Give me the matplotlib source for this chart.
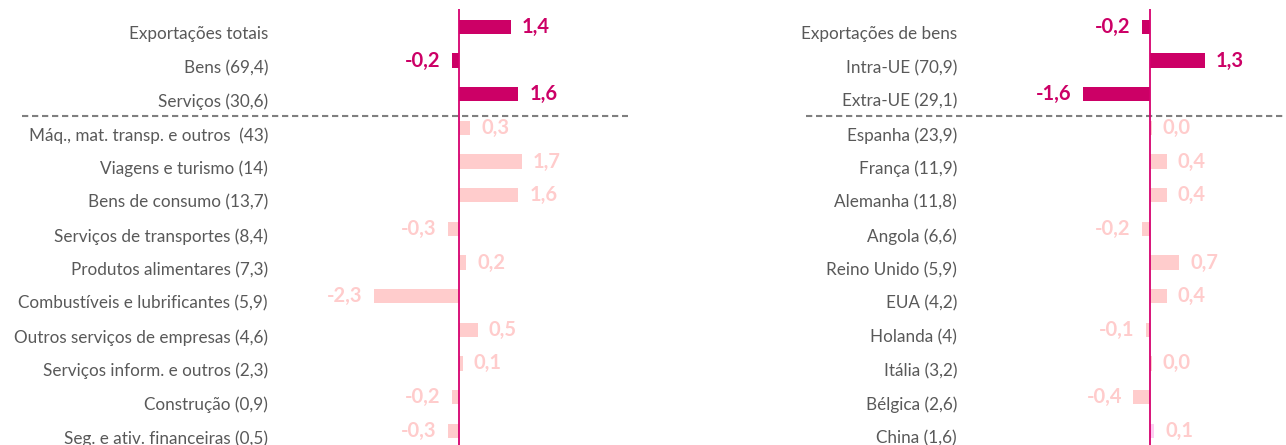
import matplotlib
matplotlib.use('Agg')
import matplotlib.pyplot as plt
import matplotlib.transforms as mtransforms

# dados
left_labels = ['Exportações totais', 'Bens (69,4)', 'Serviços (30,6)',
               'Máq., mat. transp. e outros  (43)', 'Viagens e turismo (14)',
               'Bens de consumo (13,7)', 'Serviços de transportes (8,4)',
               'Produtos alimentares (7,3)', 'Combustíveis e lubrificantes (5,9)',
               'Outros serviços de empresas (4,6)', 'Serviços inform. e outros (2,3)',
               'Construção (0,9)', 'Seg. e ativ. financeiras (0,5)']
left_values = [1.4, -0.2, 1.6, 0.3, 1.7, 1.6, -0.3, 0.2, -2.3, 0.5, 0.1, -0.2, -0.3]

right_labels = ['Exportações de bens', 'Intra-UE (70,9)', 'Extra-UE (29,1)',
                'Espanha (23,9)', 'França (11,9)', 'Alemanha (11,8)', 'Angola (6,6)',
                'Reino Unido (5,9)', 'EUA (4,2)', 'Holanda (4)', 'Itália (3,2)',
                'Bélgica (2,6)', 'China (1,6)']
right_values = [-0.2, 1.3, -1.6, 0.045, 0.4, 0.4, -0.2, 0.7, 0.4, -0.1, 0.04, -0.4, 0.1]

DARK = '#CC0066'
LIGHT = '#FFCCCC'
CHINA = '#FFCCF2'
GREY = '#595959'

plt.rcParams['font.family'] = ['Lato', 'DejaVu Sans']

W, H = 1286, 445
fig = plt.figure(figsize=(W / 100, H / 100), dpi=100)


def panel(x0, x1, zero_px, px_per_unit, labels, values, label_x, dash_from, dash_to, bar_colors):
    ax = fig.add_axes([x0 / W, 0, (x1 - x0) / W, 1])
    ax.set_axis_off()
    width = x1 - x0
    ax.set_xlim(-(zero_px - x0) / px_per_unit, (x1 - zero_px) / px_per_unit)
    # linha i centrada em y = 33 + 33.65*i px
    ax.set_ylim((H - 33) / 33.65, -33 / 33.65)
    n = len(values)
    pos = [i - 0.18 for i in range(n)]
    ax.barh(pos, values, height=0.43, color=bar_colors, zorder=2)

    lab_tr = mtransforms.blended_transform_factory(ax.transAxes, ax.transData)
    for i, lab in enumerate(labels):
        ax.text((label_x - x0) / width, i, lab, transform=lab_tr, ha='right',
                va='center_baseline', fontsize=12.3, color=GREY)

    off = mtransforms.offset_copy
    for i, v in enumerate(values):
        txt = f'{v:.1f}'.replace('.', ',')
        col = DARK if i < 3 else LIGHT
        if v >= 0:
            tr = off(ax.transData, fig=fig, x=11, y=0, units='dots')
            ha = 'left'
        else:
            tr = off(ax.transData, fig=fig, x=-11, y=0, units='dots')
            ha = 'right'
        ax.text(v, pos[i], txt, transform=tr, ha=ha, va='center', fontsize=14.5,
                fontweight='bold', color=col)

    ax.plot([(dash_from - x0) / width, (dash_to - x0) / width], [2.46, 2.46],
            transform=lab_tr, color='#7F7F7F', lw=1.5, ls=(0, (3, 1.8)), clip_on=False, zorder=1)
    ax.vlines(0, -0.7, n + 1, color='#D6006E', lw=1.3, zorder=3)
    return ax


panel(0, 640, 459, 37, left_labels, left_values, 268, 22, 628,
      [DARK] * 3 + [LIGHT] * 10)
panel(640, W, 1150, 42, right_labels, right_values, 957, 806, W,
      [DARK] * 3 + [LIGHT] * 9 + [CHINA])

fig.savefig('out.png', dpi=100)
